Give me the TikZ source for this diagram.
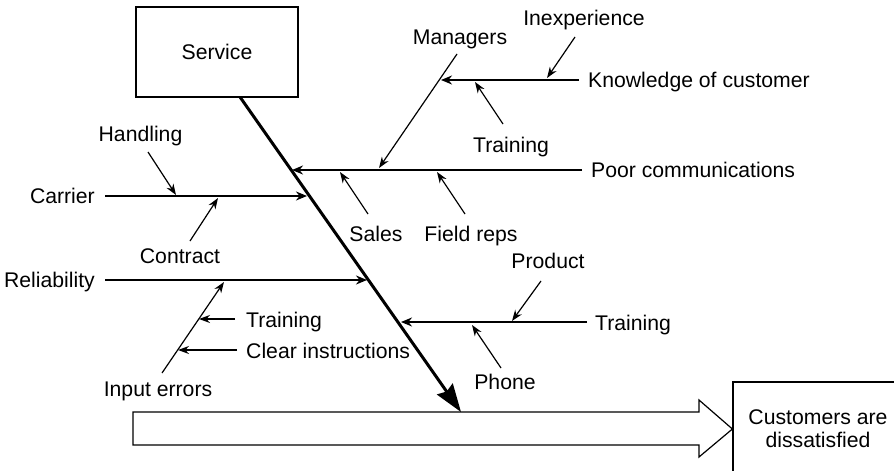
\documentclass[tikz,border=0pt]{standalone}
\usepackage{fontspec}
\setmainfont{Liberation Sans}
\usetikzlibrary{arrows.meta,positioning}

\begin{document}
\begin{tikzpicture}[x=1pt, y=-1pt, every node/.style={font=\fontsize{21.2}{23.3}\selectfont, inner sep=0pt}]
    \tikzstyle{box} = [rectangle, draw, line width=1.2pt, inner sep=0pt, text centered]
    \tikzstyle{spine} = [line width=3pt, -{Stealth[length=28pt, width=19pt, inset=3pt]}]
    \tikzstyle{bone} = [line width=2.4pt, -{Stealth[length=11pt, width=9pt]}]
    \tikzstyle{cause} = [line width=1.2pt, -{Stealth[length=11pt, width=8pt]}]
    \useasboundingbox (0,0) rectangle (894,471);

    % Effect and head
    \node [box, minimum width=162pt, minimum height=90pt] (service) at (217,52) {Service};
    \node [box, minimum width=170pt, minimum height=94pt, align=center] (customers) at (818,429) {Customers are\\dissatisfied};
    \coordinate (spine_top) at (240,97);
    \coordinate (spine_tip) at (461,412);

    % Main bones
    \coordinate (pc_end) at (582,170);
    \coordinate (pc_tip) at (292,170);
    \node [anchor=base west] (poorcomm) at (591,177) {Poor communications};
    \coordinate (carrier_end) at (105,196);
    \coordinate (carrier_tip) at (307,196);
    \node [anchor=base east] (carrier) at (95,203) {Carrier};
    \coordinate (rel_end) at (105,280);
    \coordinate (rel_tip) at (367,280);
    \node [anchor=base east] (reliability) at (95,287) {Reliability};
    \coordinate (tr_end) at (587,322);
    \coordinate (tr_tip) at (401,322);
    \node [anchor=base west] (training_r) at (595,330) {Training};

    % Sub causes, communications
    \coordinate (kn_end) at (579,80);
    \coordinate (kn_tip) at (441,80);
    \node [anchor=base west] (knowledge) at (588,87) {Knowledge of customer};
    \coordinate (man_start) at (457,54);
    \coordinate (man_tip) at (379,168);
    \node [anchor=base] (managers) at (460,44) {Managers};
    \coordinate (inex_start) at (575,37);
    \coordinate (inex_tip) at (547,78);
    \node [anchor=base] (inexperience) at (584,25.5) {Inexperience};
    \coordinate (tk_start) at (503,124);
    \coordinate (tk_tip) at (475,82);
    \node [anchor=base] (training_k) at (511,152) {Training};
    \coordinate (sales_start) at (368,214);
    \coordinate (sales_tip) at (340,172);
    \node [anchor=base] (sales) at (376,241) {Sales};
    \coordinate (fr_start) at (465,214);
    \coordinate (fr_tip) at (437,172);
    \node [anchor=base] (fieldreps) at (471,241) {Field reps};

    % Sub causes, carrier and reliability
    \coordinate (hand_start) at (148,152);
    \coordinate (hand_tip) at (176,195);
    \node [anchor=base] (handling) at (140.5,141) {Handling};
    \coordinate (con_start) at (190,241);
    \coordinate (con_tip) at (218,198);
    \node [anchor=base] (contract) at (180,263) {Contract};
    \coordinate (ie_start) at (162,373);
    \coordinate (ie_tip) at (224,282);
    \node [anchor=base] (inputerrors) at (158,396) {Input errors};
    \coordinate (tl_start) at (235,319);
    \coordinate (tl_tip) at (199,319);
    \node [anchor=base west] (training_l) at (246,327) {Training};
    \coordinate (ci_start) at (237,350);
    \coordinate (ci_tip) at (178,350);
    \node [anchor=base west] (clearinstr) at (246,358) {Clear instructions};

    % Sub causes, training
    \coordinate (prod_start) at (541,281);
    \coordinate (prod_tip) at (512,321);
    \node [anchor=base] (product) at (548,268.5) {Product};
    \coordinate (ph_start) at (501,368);
    \coordinate (ph_tip) at (472,325);
    \node [anchor=base] (phone) at (505,389) {Phone};

    % Big arrow
    \draw [line width=1.2pt, line join=miter] (133,412) -- (699,412) -- (699,400) -- (customers.west) -- (699,457) -- (699,445) -- (133,445) -- cycle;

    % Connections
    \draw [spine] (spine_top) -- (spine_tip);
    \draw [bone] (pc_end) -- (pc_tip);
    \draw [bone] (carrier_end) -- (carrier_tip);
    \draw [bone] (rel_end) -- (rel_tip);
    \draw [bone] (tr_end) -- (tr_tip);
    \draw [bone, line width=1.8pt] (kn_end) -- (kn_tip);

    \draw [cause] (man_start) -- (man_tip);
    \draw [cause] (inex_start) -- (inex_tip);
    \draw [cause] (tk_start) -- (tk_tip);
    \draw [cause] (sales_start) -- (sales_tip);
    \draw [cause] (fr_start) -- (fr_tip);
    \draw [cause] (hand_start) -- (hand_tip);
    \draw [cause] (con_start) -- (con_tip);
    \draw [cause] (ie_start) -- (ie_tip);
    \draw [cause] (tl_start) -- (tl_tip);
    \draw [cause] (ci_start) -- (ci_tip);
    \draw [cause] (prod_start) -- (prod_tip);
    \draw [cause] (ph_start) -- (ph_tip);
\end{tikzpicture}
\end{document}
